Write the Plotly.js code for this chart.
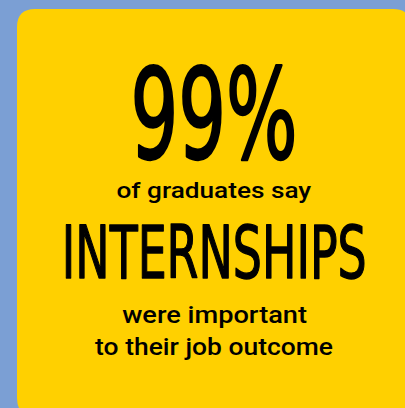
<!DOCTYPE html>
<html>
<head>
<meta charset="utf-8">
<script src="https://cdn.plot.ly/plotly-3.0.1.min.js"></script>
<style>
html,body{margin:0;padding:0;background:#7b9fd4;}
#chart{width:405px;height:408px;}
</style>
</head>
<body>
<div id="chart"></div>
<script>
// Content of the infographic
const lineTexts = ["99%", "of graduates say", "INTERNSHIPS", "were important", "to their job outcome"];
const lineKinds = ["big", "small", "big", "small", "small"];

// Layout / style (pixel geometry, not data)
const W = 405, H = 408;
const centerX = 214;
const baselines = [158, 198, 278, 323, 355];
const sizes = [125, 22, 73, 24, 24];
const targetWidths = [167, 195, 305, 185, 238];
const strokeWidths = [2.4, 0, 1.4, 0, 0];
const bigFont = "Liberation Sans Narrow, DejaVu Sans Condensed, Liberation Sans, Arial, sans-serif";
const smallFont = "Roboto, Liberation Sans, Arial, sans-serif";

function roundedRect(x0, y0, x1, y1, r) {
  return `M ${x0 + r} ${y0} L ${x1 - r} ${y0} Q ${x1} ${y0} ${x1} ${y0 + r} ` +
         `L ${x1} ${y1 - r} Q ${x1} ${y1} ${x1 - r} ${y1} L ${x0 + r} ${y1} ` +
         `Q ${x0} ${y1} ${x0} ${y1 - r} L ${x0} ${y0 + r} Q ${x0} ${y0} ${x0 + r} ${y0} Z`;
}

const annotations = lineTexts.map((t, i) => ({
  x: centerX,
  y: baselines[i] - 0.3465 * sizes[i],
  xref: "x", yref: "y",
  text: t,
  showarrow: false,
  xanchor: "center", yanchor: "middle",
  font: {
    family: lineKinds[i] === "big" ? bigFont : smallFont,
    size: sizes[i],
    color: "#000000",
    weight: lineKinds[i] === "big" ? 400 : 500
  }
}));

const layout = {
  width: W, height: H,
  margin: {l: 0, r: 0, t: 0, b: 0, pad: 0},
  paper_bgcolor: "#7b9fd4",
  plot_bgcolor: "rgba(0,0,0,0)",
  xaxis: {range: [0, W], visible: false, fixedrange: true},
  yaxis: {range: [H, 0], visible: false, fixedrange: true},
  showlegend: false,
  shapes: [{
    type: "path",
    xref: "x", yref: "y",
    path: roundedRect(17, 9, 411, 416, 18),
    fillcolor: "#ffd000",
    line: {width: 0},
    layer: "below"
  }],
  annotations: annotations
};

Plotly.newPlot("chart", [], layout, {staticPlot: true, displayModeBar: false}).then(() => {
  const groups = document.querySelectorAll("#chart .annotation");
  groups.forEach(g => {
    const idx = +g.getAttribute("data-index");
    const txt = g.querySelector("text.annotation-text");
    if (!txt) return;
    const w = txt.getBBox().width;
    const k = targetWidths[idx] / w;
    if (strokeWidths[idx] > 0) {
      txt.style.stroke = "#000000";
      txt.style.strokeWidth = strokeWidths[idx] + "px";
      txt.style.strokeLinejoin = "round";
    }
    txt.style.transformBox = "fill-box";
    txt.style.transformOrigin = "center";
    txt.style.transform = `scaleX(${k})`;
  });
});
</script>
</body>
</html>
